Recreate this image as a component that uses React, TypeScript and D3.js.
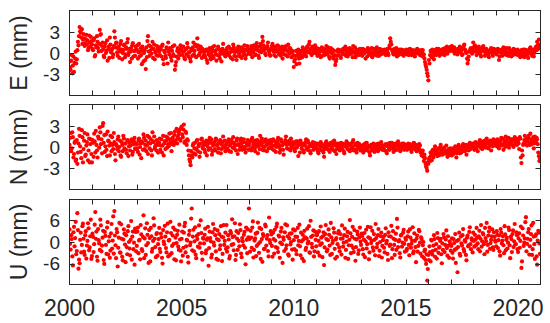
import React from "react";
import * as d3 from "d3";

// two interleaved sampling sets: 20 epochs per year each, one row per year (2000 ... 2020)
// "...Mm" rows sit at year + i/20, "...MmMid" rows at year + (i + 0.5)/20
const years = [2000, 2001, 2002, 2003, 2004, 2005, 2006, 2007, 2008, 2009, 2010,
  2011, 2012, 2013, 2014, 2015, 2016, 2017, 2018, 2019, 2020];

const eastMm = [
  [-1.2, -2.4, -0.3, -1.8, -2.7, -0.8, -1.5, 0.4, 1.1, 3.7, 2.9, 3.4, 1.9, 2.1, 1.4, 2.6, 1.8, 0.7, 1.5, 2.3],
  [1.2, 0.4, 2.1, -0.3, 0.8, 1.6, 0.2, 3.3, 2.7, 1.0, 0.5, -0.6, 1.4, 0.3, -1.1, 0.9, 2.2, 0.1, 0.6, -0.2],
  [3.1, 0.8, 1.5, -0.4, 0.9, 0.2, 1.7, -0.9, 0.4, 1.2, -0.2, 0.6, 2.0, 0.1, -1.3, 0.7, 1.1, -0.5, 0.3, 0.9],
  [0.5, -0.8, 1.3, 0.2, -0.3, 0.9, -1.2, 0.4, -2.3, -0.6, 2.4, 1.1, 0.3, -0.1, 1.6, 0.6, -0.9, 0.2, 1.0, -0.4],
  [0.2, 0.8, -0.5, 1.2, -1.6, 0.1, -0.7, 0.6, 1.5, -0.2, 0.4, -1.1, 0.9, -0.4, -2.4, -1.3, 0.3, -0.8, 0.5, 1.1],
  [0.7, -0.3, 0.2, -0.9, 0.6, 1.4, -0.5, 0.1, -1.2, 0.4, 0.8, -0.2, 1.2, -0.6, 2.1, 0.5, -0.1, 0.9, -0.7, 0.3],
  [0.1, -0.6, 0.5, -1.4, -0.2, 0.7, -0.9, 0.3, -0.4, 1.0, 0.2, -1.1, -0.3, 0.6, -0.8, 0.4, -0.1, 1.3, 0.0, -0.5],
  [0.4, -0.2, 0.9, 0.1, -0.7, 0.5, 1.2, -0.4, 0.3, -1.0, 0.6, 0.0, -0.5, 0.8, 0.2, -0.3, 1.1, -0.8, 0.4, 0.7],
  [-0.1, 0.5, 1.0, -0.6, 0.3, 0.8, -0.2, 1.4, 0.4, -0.7, 0.9, 0.1, 2.3, 1.1, 0.6, -0.3, 0.7, 1.5, 0.2, -0.4],
  [0.6, 1.3, 0.2, 0.9, -0.5, 0.4, 1.0, -0.2, 0.7, 0.1, -0.8, 0.5, 0.9, -0.3, 0.3, 1.2, -0.1, 0.6, -0.6, 0.2],
  [-2.0, -0.9, 0.3, -0.4, 0.5, -1.5, -0.7, 0.2, 0.8, -0.2, 0.4, -0.5, 0.9, 0.1, 1.6, 0.6, -0.3, 0.7, 0.0, 1.1],
  [0.3, -0.4, 0.6, 0.1, -0.6, 0.8, 0.2, -0.3, 0.5, 1.0, -0.1, 0.4, -0.8, 0.7, 0.0, -0.5, 0.3, -1.7, -0.9, 0.2],
  [-0.3, 0.4, -0.7, 0.1, 0.6, -0.2, 0.9, 0.3, -0.5, 0.2, 0.7, -0.1, 0.4, 1.0, 0.0, -0.6, 0.5, 0.1, -0.3, 0.6],
  [0.2, -0.4, 0.5, 0.0, -0.8, 0.3, 0.7, -0.2, 0.4, 0.1, -0.6, 0.6, 0.2, -0.3, 0.8, 0.0, -0.4, 0.3, 0.5, -0.1],
  [0.1, 0.5, -0.3, 0.4, 0.0, 0.7, 2.1, 1.2, 0.3, -0.2, 0.6, 0.1, -0.5, 0.4, 0.2, -0.1, 0.5, 0.0, -0.4, 0.3],
  [0.2, -0.2, 0.4, 0.0, 0.5, -0.3, 0.3, 0.1, -0.5, 0.2, 0.6, -0.1, 0.3, 0.0, -0.4, 0.4, -0.2, -1.3, -2.0, -2.9],
  [-3.9, -1.5, 0.3, -0.6, 0.1, -0.9, 0.4, -0.3, 0.2, 0.6, -0.4, 0.0, 0.5, -0.2, 0.3, 0.7, 0.1, -0.1, 0.4, 0.8],
  [0.6, 1.0, 0.3, 0.8, 0.1, 0.5, -0.2, 0.4, 0.9, 0.2, -0.3, 0.6, 1.2, 0.4, 0.0, -1.5, -0.5, 0.3, 0.7, -0.1],
  [1.5, 0.2, 0.8, -0.3, 0.4, 0.9, 0.1, -0.5, 0.6, 1.0, 0.2, -0.2, 0.5, 0.0, -0.6, 0.3, 0.7, -0.1, 0.4, 0.1],
  [0.3, -0.2, 0.6, -1.0, 0.1, 0.4, -0.4, 0.8, 0.2, 0.5, -0.3, 0.0, 0.7, 0.3, -0.5, 0.2, 0.6, -0.1, 0.4, 0.0],
  [-0.3, 0.2, -0.6, 0.4, 0.0, -0.4, 0.5, -0.2, 0.1, -0.7, 0.3, 0.8, -0.1, 0.2, -0.5, 0.4, 0.9, 1.6, 0.6, 1.2],
];

const eastMmMid = [
  [-2.0, -1.1, -2.9, -0.5, -1.4, 0.2, -0.9, 1.6, 2.4, 3.1, 2.2, 1.3, 2.7, 1.0, 2.0, 1.2, 0.4, 2.5, 0.9, 1.7],
  [0.6, 1.8, -0.5, 1.1, 2.4, 0.7, 1.3, 2.6, 0.3, 1.5, -0.4, 0.9, 0.0, 1.8, 0.5, -0.7, 1.2, 0.4, -0.6, 1.0],
  [2.2, 1.4, 0.1, 0.6, -0.7, 1.3, 0.5, 0.0, 1.1, -0.6, 0.8, 1.5, -0.3, 0.6, 0.2, -0.8, 1.4, 0.3, -0.4, 0.5],
  [1.1, 0.1, -0.5, 0.7, -1.6, 0.4, 0.0, -1.0, 0.8, 1.7, 0.2, -0.4, 0.9, 0.6, -0.7, 1.2, 0.1, -0.3, 0.5, 0.8],
  [-0.3, 0.5, 1.0, -0.9, 0.3, -0.4, 0.8, -1.5, 0.2, 0.7, -0.6, 0.3, -0.2, 1.1, -1.8, -0.5, 0.7, 0.0, -0.3, 0.4],
  [0.2, 0.9, -0.7, 0.5, -0.2, 0.8, 0.1, -0.8, 0.6, -0.4, 1.5, 0.3, -0.5, 0.9, 1.1, -0.3, 0.4, 0.2, 0.6, -0.4],
  [-0.3, 0.4, -1.0, 0.2, 0.6, -0.5, 0.0, 0.8, -0.7, 0.3, -0.2, 0.5, 0.9, -0.4, 0.1, -1.2, 0.6, 0.3, -0.3, 0.2],
  [0.7, 0.0, -0.4, 0.6, 0.2, -0.9, 0.8, 0.1, -0.5, 0.4, 0.9, -0.2, 0.3, -0.7, 0.6, 0.1, 0.5, -0.3, 1.0, 0.2],
  [0.3, -0.2, 0.6, 0.1, 1.1, -0.3, 0.5, 0.9, -0.4, 0.2, 1.3, 0.6, 1.7, 0.4, -0.1, 0.8, 1.0, 0.3, -0.2, 0.6],
  [1.0, 0.4, -0.3, 0.6, 0.2, 1.1, 0.0, 0.5, -0.4, 0.9, 0.3, -0.2, 0.6, 1.0, -0.5, 0.4, 0.7, 0.1, 0.3, -0.3],
  [-1.2, -0.4, -1.6, 0.1, -0.8, -0.2, 0.3, -0.6, 0.5, 0.1, -0.3, 0.7, 0.2, 1.2, 0.4, -0.1, 0.9, 0.3, 0.6, 0.0],
  [0.7, 0.0, -0.2, 0.5, 0.3, -0.4, 0.6, 0.1, -0.2, 0.4, 0.8, -0.5, 0.2, 0.0, 0.5, -0.8, -0.3, -1.2, -0.4, 0.5],
  [0.2, -0.5, 0.3, -0.1, 0.4, 0.7, -0.4, 0.1, 0.6, -0.2, 0.3, 0.5, -0.6, 0.2, 0.8, -0.3, 0.1, 0.4, -0.1, 0.3],
  [-0.2, 0.6, -0.1, 0.4, 0.2, -0.5, 0.1, 0.5, -0.3, 0.7, 0.0, -0.2, 0.5, 0.1, -0.4, 0.3, 0.6, -0.2, 0.1, 0.4],
  [0.4, -0.1, 0.2, 0.6, -0.3, 1.1, 1.6, 0.5, 0.0, 0.4, -0.2, 0.7, 0.1, -0.3, 0.5, 0.2, -0.2, 0.4, 0.1, -0.1],
  [0.5, 0.1, -0.3, 0.6, 0.2, -0.1, 0.4, -0.4, 0.3, 0.0, 0.5, 0.2, -0.3, 0.4, 0.0, -0.5, -0.8, -1.7, -2.4, -3.3],
  [-1.0, -0.3, 0.2, 0.5, -0.4, 0.1, -0.2, 0.6, 0.0, 0.3, 0.4, -0.1, 0.2, 0.6, -0.3, 0.5, 0.9, 0.2, 0.6, 0.3],
  [0.9, 0.4, 0.7, -0.1, 0.5, 0.2, 0.6, 0.1, 0.3, 0.7, -0.2, 0.9, 0.5, 0.1, -0.8, -1.0, 0.2, 0.6, 0.1, 0.4],
  [0.8, 1.1, 0.3, 0.5, 0.0, 0.6, -0.2, 0.3, 0.8, 0.4, -0.4, 0.6, 0.2, -0.3, 0.1, 0.5, 0.3, -0.4, 0.6, 0.2],
  [0.0, 0.5, 0.2, -0.5, 0.4, -0.1, 0.6, 0.3, -0.2, 0.7, 0.1, -0.4, 0.5, 0.0, 0.3, -0.3, 0.4, 0.2, -0.2, 0.5],
  [0.1, -0.4, 0.3, -0.1, 0.5, -0.6, 0.2, 0.4, -0.3, 0.0, 0.6, 0.2, -0.4, 0.5, 0.0, 0.7, 0.4, 1.1, 1.9, 0.8],
];

const northMm = [
  [0.3, 2.0, -0.2, 1.4, -1.0, 0.8, -1.8, -2.4, 0.5, 1.6, -0.7, 2.4, -2.2, 0.9, -1.3, 0.2, 1.8, -0.5, -2.2, 1.1],
  [-2.2, 0.6, 1.9, -0.8, 0.3, -1.5, 1.2, 2.8, 0.4, -0.9, 3.4, 1.7, 0.1, -0.4, 2.2, 0.8, -1.2, 0.5, 1.4, -0.3],
  [0.7, -1.9, 0.2, 1.1, -0.6, 0.9, -1.4, 0.3, 1.6, -0.2, 0.5, -0.9, 1.0, 0.1, -0.5, 0.8, -1.1, 0.4, 1.3, -0.3],
  [0.4, -0.7, 1.2, 0.0, -1.6, 0.6, 1.8, -0.3, 0.9, 0.2, -1.0, 1.4, 0.5, -0.5, 2.1, 0.8, -0.2, 0.3, 1.0, -0.8],
  [0.6, -0.4, 1.1, 0.2, -1.2, 0.8, 1.5, -0.1, 0.4, 1.9, 0.7, -0.6, 1.3, 0.3, 2.2, 1.0, 0.5, 1.7, 2.4, 0.9],
  [2.9, 1.4, 3.2, 0.8, 2.0, 1.1, -0.5, -1.8, -2.6, -1.2, 0.2, -0.9, 0.6, -0.3, 1.0, 0.1, -1.4, 0.5, 1.2, -0.2],
  [0.3, -0.8, 0.9, 0.1, -0.4, 1.3, 0.6, -1.1, 0.2, 0.7, -0.5, 1.0, 0.4, -0.2, 0.8, -0.9, 0.3, 1.5, 0.0, -0.6],
  [0.5, -0.3, 1.1, 0.2, -0.7, 0.6, 1.4, -0.2, 0.3, 0.9, -1.0, 0.4, 0.1, 1.2, -0.4, 0.7, 0.0, -0.8, 0.5, 1.0],
  [0.2, 0.8, -0.5, 1.3, 0.4, -0.2, 0.9, 0.1, -0.9, 0.6, 1.6, 0.3, -0.4, 0.7, 0.0, 1.1, -0.6, 0.4, 0.9, -0.1],
  [0.6, -0.3, 1.0, 0.2, -0.7, 0.5, 1.3, 0.0, -0.4, 0.8, 0.3, -1.1, 0.6, 1.5, -0.2, 0.4, 0.9, -0.5, 0.1, 0.7],
  [0.3, -0.6, 0.8, 0.0, -1.3, 0.4, 0.9, -0.2, 0.5, -0.8, 0.2, 1.1, -0.4, 0.6, 0.1, -0.9, 0.3, 0.7, -0.3, 0.4],
  [-0.2, 0.5, -0.9, 0.2, 0.7, -0.5, 0.1, -1.4, 0.4, 0.8, -0.3, 0.3, -0.7, 0.6, 0.0, -0.4, 0.9, 0.2, -1.0, 0.5],
  [0.1, -0.5, 0.6, -0.2, 0.3, -0.9, 0.4, 0.8, -0.3, 0.2, -0.6, 0.5, 0.0, 1.0, -0.4, 0.3, -0.8, 0.6, 0.1, -0.2],
  [-0.4, 0.2, -0.8, 0.4, -0.1, 0.6, -0.5, 0.0, -1.2, 0.3, -0.3, 0.5, -0.7, 0.1, 0.4, -0.6, 0.2, -0.2, 0.7, -0.4],
  [0.0, -0.5, 0.4, -0.9, 0.2, -0.3, 0.6, -0.1, 0.3, -0.7, 0.1, 0.5, -0.4, 0.8, 0.0, -0.6, 0.3, -0.2, 0.5, -0.1],
  [0.2, -0.4, 0.5, -0.1, 0.3, -0.7, 0.1, 0.6, -0.3, 0.2, -0.5, 0.0, 0.4, -0.8, -1.2, -0.5, -2.0, -1.6, -2.8, -3.4],
  [-2.4, -1.5, -0.8, -1.9, -0.4, -1.1, 0.1, -0.6, -1.3, -0.2, -0.9, 0.3, -0.5, -1.0, -0.1, -0.7, 0.2, -1.4, -0.3, -0.8],
  [-0.5, -1.2, -0.2, -0.8, 0.1, -1.5, -0.4, 0.3, -0.9, -0.1, -0.6, 0.4, -0.3, 0.0, -1.1, 0.2, -0.5, 0.6, -0.2, 0.1],
  [0.3, -0.4, 0.7, 0.0, -0.6, 0.5, 1.0, 0.2, -0.3, 0.8, 0.4, -0.1, 1.2, 0.6, 0.0, 0.9, -0.5, 0.5, 1.1, 0.3],
  [0.7, 0.1, 1.0, -0.2, 0.5, 1.3, 0.3, -0.4, 0.8, 1.5, 0.2, 0.6, -0.1, 1.1, 0.4, 0.9, 0.0, 1.4, 0.7, 0.3],
  [0.9, -0.3, 1.2, -2.3, -1.2, 0.5, 1.6, 0.8, 0.2, 1.3, 0.6, 1.9, 0.4, 1.0, -0.2, 1.5, 0.7, 1.1, -0.8, -2.0],
];

const northMmMid = [
  [1.3, -0.6, 2.1, -1.5, 0.6, -2.0, 1.0, -0.8, 2.6, 0.1, -1.6, 1.4, -0.3, 2.0, -1.1, 0.7, -1.9, 1.2, 0.4, -1.0],
  [1.0, -1.4, 0.8, 2.3, -0.5, 1.5, -0.1, 2.1, 1.1, 3.0, 0.6, -0.7, 1.8, -1.3, 0.9, 0.2, 1.6, -0.6, 0.3, 2.0],
  [-1.0, 0.4, -0.3, 1.5, 0.0, -1.2, 0.7, -0.6, 1.2, 0.5, -0.4, 0.9, -1.3, 0.6, 0.2, 1.1, -0.7, 0.8, -0.2, 0.5],
  [-0.2, 0.9, -1.1, 0.5, 0.8, -0.4, 1.3, 0.3, -0.6, 1.6, 0.6, -0.2, 1.1, -1.2, 0.7, 1.5, 0.1, -0.5, 0.6, 0.3],
  [1.2, 0.2, -0.8, 1.6, 0.5, -0.3, 0.9, 1.3, 0.1, 1.1, 2.0, 0.4, 0.8, 1.7, 0.6, 2.6, 1.4, 2.1, 1.1, 2.7],
  [1.8, 2.5, 0.6, 2.2, 0.3, 0.9, -1.2, -2.1, -0.6, -1.5, 0.5, -0.2, -1.1, 0.9, -0.6, 0.4, -0.8, 1.1, 0.0, 0.7],
  [-0.4, 0.6, -1.2, 0.5, 0.9, -0.2, 1.1, -0.6, 0.4, -0.3, 1.2, 0.2, -0.8, 0.5, 1.0, -0.3, 0.7, -0.1, 0.9, 0.3],
  [-0.2, 0.8, -0.6, 0.5, 1.0, -0.1, 0.6, 0.2, -0.5, 1.2, 0.3, -0.4, 0.9, 0.5, 0.0, 1.1, -0.3, 0.6, 0.2, -0.4],
  [0.6, -0.3, 1.1, 0.0, 0.7, -0.6, 0.4, 1.0, 0.2, -0.3, 0.8, 1.2, 0.1, -0.5, 0.9, 0.3, 0.6, -0.2, 0.5, 1.0],
  [0.2, 1.1, -0.5, 0.7, 0.0, 0.9, 0.4, -0.8, 1.1, 0.2, -0.4, 0.6, 1.0, 0.3, 0.7, -0.3, 0.5, 1.2, -0.1, 0.4],
  [-0.3, 0.5, -0.1, 0.8, 0.3, -0.8, 0.5, 0.2, -0.5, 0.3, 0.7, -0.2, 0.9, 0.0, -0.6, 0.4, 0.1, -0.4, 0.6, 0.0],
  [0.4, -0.6, 0.3, -0.2, 0.5, 0.1, -0.8, -0.3, 0.6, 0.0, 0.4, -0.5, 0.2, -0.2, 0.7, 0.3, -0.6, 0.5, -0.3, 0.1],
  [-0.3, 0.4, -0.1, 0.5, -0.6, 0.2, 0.0, 0.6, 0.3, -0.4, 0.4, -0.2, 0.7, -0.5, 0.2, 0.5, -0.3, 0.1, 0.4, -0.5],
  [0.1, -0.3, 0.3, -0.5, 0.6, -0.2, 0.2, -0.8, 0.0, -0.5, 0.3, -0.1, 0.2, -0.4, 0.0, 0.5, -0.3, 0.4, -0.1, 0.2],
  [-0.3, 0.3, -0.6, 0.1, 0.5, -0.4, 0.2, 0.6, -0.2, 0.4, -0.4, 0.2, 0.6, -0.1, 0.3, -0.3, 0.5, 0.0, -0.4, 0.3],
  [-0.2, 0.3, 0.0, 0.4, -0.4, 0.2, -0.2, 0.5, 0.0, -0.6, 0.3, -0.2, 0.2, -0.5, -0.9, -1.4, -1.1, -2.4, -3.0, -2.2],
  [-1.8, -2.0, -1.2, -0.6, -1.5, -0.3, -0.8, -1.0, -0.4, -1.2, -0.1, -0.7, -1.1, -0.3, -0.9, -0.5, -1.0, -0.6, -1.2, -0.2],
  [-0.9, -0.4, -1.0, -0.3, -0.7, -0.9, 0.0, -0.5, -0.2, -0.8, 0.2, -0.3, -0.6, 0.3, -0.4, -0.1, 0.4, -0.3, 0.2, 0.5],
  [0.0, 0.5, -0.2, 0.4, 0.2, 0.8, -0.1, 0.6, 0.3, 0.1, 0.9, 0.4, 0.7, -0.2, 0.5, 0.3, 0.8, 0.1, 0.6, 0.9],
  [0.4, 1.1, 0.6, 0.3, 0.9, 0.2, 1.2, 0.5, 0.0, 1.0, 0.7, 1.3, 0.4, 0.8, 1.1, 0.2, 0.9, 0.5, 1.2, 1.0],
  [0.5, 1.4, -1.5, -0.5, 0.3, 1.0, 0.4, 1.2, 0.8, 1.6, 0.3, 1.1, 0.7, 1.4, 0.5, 1.0, 1.3, 0.4, -1.3, -1.6],
];

const upMm = [
  [3.5, -2.1, 0.8, -6.5, 4.2, 1.1, -3.4, 8.0, -7.4, -5.9, 2.6, -0.8, 5.1, -2.7, 1.9, -4.6, 0.3, 3.8, -1.5, 6.2],
  [-3.9, 1.4, -0.6, 8.3, 2.9, -5.2, 0.5, -2.2, 4.6, -1.0, 3.1, -6.1, 1.7, -3.3, 5.5, 0.2, -4.4, 2.4, -1.8, 7.1],
  [8.6, -0.9, 3.6, -6.8, 1.2, -2.9, 4.9, -4.1, 0.7, 2.3, -5.6, -1.4, 3.0, 0.0, -3.7, 5.8, 1.5, -2.0, -6.3, 2.8],
  [-1.1, 4.0, 0.4, -4.8, 2.1, -2.5, 7.4, 1.0, -3.6, 5.2, -0.3, 3.3, -5.4, 1.6, -1.9, 6.6, 0.9, -4.2, 2.5, -0.6],
  [3.9, -2.8, 1.3, -6.0, 0.1, 4.5, -1.7, 2.7, -4.0, 0.6, 5.6, -3.1, 1.8, -0.5, 3.4, -5.1, 2.0, -1.3, 4.8, -2.4],
  [0.9, -3.8, 2.6, 5.3, -1.2, 0.4, -5.7, 3.1, -0.2, 9.3, 1.5, -2.6, 4.1, -4.5, 0.8, 2.2, -1.6, 6.0, -3.0, 1.1],
  [-0.4, 3.7, -2.3, 1.0, -6.6, 2.9, 0.2, -3.5, 5.0, -1.0, 1.9, -4.7, 3.2, 0.5, -2.0, 4.4, -5.3, 1.3, -0.8, 2.6],
  [4.7, -1.5, 0.7, -3.9, 2.4, 6.3, -0.6, 1.6, -5.0, 3.0, -2.2, 0.3, 4.9, -3.2, 1.1, -0.9, 2.8, -6.2, 0.6, 3.5],
  [9.3, -2.7, 1.2, 4.0, -4.3, 0.4, 2.3, -1.1, 5.4, -3.0, 0.0, 3.6, -5.5, 1.7, -1.8, 4.3, 0.9, -2.5, 6.8, -0.3],
  [2.1, -4.1, 0.8, 3.4, -1.4, 5.1, -2.8, 1.5, -0.2, 3.9, -5.8, 0.6, 2.7, -1.9, 4.6, -3.4, 1.0, -0.7, 2.4, -4.9],
  [0.5, 3.2, -2.4, 1.4, -0.9, 4.8, -3.7, 0.2, 2.0, -5.3, 1.3, -1.6, 3.7, 0.1, -2.9, 5.9, -0.5, 1.8, -4.0, 2.9],
  [-1.2, 2.4, 0.3, -3.8, 4.3, -0.4, 1.6, -6.4, 2.2, 0.8, -2.1, 3.5, -1.0, 5.3, -3.3, 0.4, 2.6, -4.6, 1.1, -0.6],
  [3.0, -2.6, 0.9, 4.6, -1.3, 1.9, -4.4, 0.1, 2.8, -0.9, 6.1, -3.1, 1.4, -1.7, 3.3, -5.2, 0.7, 2.1, -2.3, 4.0],
  [-0.8, 1.7, -3.5, 2.5, 0.2, -1.8, 4.2, -4.8, 1.0, -0.3, 3.1, -2.4, 0.6, 5.0, -1.5, 1.9, -3.9, 0.0, 2.6, -1.1],
  [1.4, -2.9, 3.8, 0.3, -5.0, 1.6, -0.7, 4.5, -2.0, 0.9, -3.6, 2.3, 6.4, -1.4, 0.5, -4.3, 2.0, -0.2, 3.4, -2.7],
  [0.6, -1.9, 2.9, -3.7, 1.2, -0.5, 4.1, -2.6, 0.3, -5.6, 1.8, -1.1, 3.0, -3.2, 0.8, -0.9, -4.4, -2.1, -6.1, -10.7],
  [-3.6, -1.2, -5.4, 0.4, -2.5, 1.9, -4.1, -0.6, 2.5, -3.0, -1.4, 0.9, -5.9, -2.2, 1.3, -0.8, 3.2, -3.8, -1.0, 0.2],
  [-2.4, 1.0, -4.6, -0.3, 2.2, -1.8, -8.4, 0.6, -3.3, 1.5, -1.0, 3.6, -2.7, 0.1, -5.1, 1.8, -0.9, 4.1, -2.0, 0.5],
  [2.6, -1.3, 0.7, 3.9, -0.4, 1.6, -2.6, 4.7, 0.2, 2.1, -3.4, 1.1, 5.3, -0.8, 2.9, -1.9, 0.6, 3.5, -2.2, 1.4],
  [0.1, 3.0, -1.7, 1.8, -3.8, 2.6, 0.4, -0.9, 4.4, -2.3, 1.2, -0.2, 3.3, -4.5, 0.8, 2.2, -1.4, 5.0, -0.6, 1.9],
  [-2.8, 2.4, 0.3, -7.2, 3.8, -1.1, 1.0, 6.9, -0.5, 2.7, -3.5, 0.6, 4.6, -2.0, 1.5, -4.7, 2.1, -6.3, 3.1, -0.4],
];

const upMmMid = [
  [-0.5, 1.9, -4.0, 2.7, -1.2, 5.6, -2.5, 3.3, -4.9, 0.6, -2.9, 4.4, 0.9, -3.6, 3.0, -1.0, 5.2, -2.3, 1.6, -4.7],
  [2.3, -2.8, 4.8, 0.9, -4.1, 3.6, -0.4, 6.2, -2.6, 1.2, -5.0, 2.8, -0.8, 4.0, -3.5, 1.5, -2.4, 5.0, 0.4, -3.2],
  [1.8, -4.5, 2.7, -1.6, 5.3, -3.0, 0.9, -5.1, 3.5, -0.7, 1.9, -3.4, 4.4, -1.8, 0.6, -4.9, 2.9, -0.2, 3.7, -2.6],
  [2.9, -3.1, 0.6, 4.7, -2.0, 1.4, -4.5, 3.8, -0.9, 2.0, -5.8, 1.1, 3.9, -2.7, 0.3, 4.6, -1.4, 2.2, -3.8, 0.8],
  [-1.9, 2.3, -4.4, 3.3, -0.6, 1.5, -2.9, 5.1, 0.4, -3.6, 2.5, -1.1, 4.0, -4.8, 1.2, -0.3, 3.1, -2.2, 0.7, -5.4],
  [2.9, -1.6, 4.4, -2.9, 0.6, -4.1, 2.0, -0.9, 6.5, -2.3, 3.4, 0.2, -3.5, 1.7, -1.3, 4.6, -0.4, 2.5, -4.9, 0.9],
  [2.0, -3.1, 0.6, 4.2, -1.7, 1.1, -4.3, 2.7, -0.2, 3.6, -2.6, 0.8, -5.0, 2.2, -0.9, 1.5, -3.3, 4.7, 0.3, -1.9],
  [-2.7, 1.9, -4.6, 3.0, -0.8, 1.4, -2.3, 5.2, -3.6, 0.9, 2.5, -1.2, 3.3, -4.2, 0.2, 2.0, -1.6, 4.0, -3.1, 1.3],
  [0.8, 3.1, -1.6, 5.7, -2.2, 1.0, -3.9, 2.6, -0.5, 3.9, -4.7, 0.8, 2.2, -2.0, 4.8, -1.0, 1.9, -4.0, 0.5, 3.0],
  [-1.1, 2.6, -3.2, 0.4, 4.2, -1.7, 1.8, -4.4, 2.9, -0.6, 1.3, -2.5, 4.9, -0.9, 1.6, -3.8, 2.3, 0.0, -2.1, 3.5],
  [-2.0, 1.5, -3.4, 3.9, 0.3, -1.2, 2.6, -4.6, 0.7, 3.1, -2.2, 1.0, -0.4, 4.4, -3.0, 1.4, -1.5, 3.2, -2.6, 0.6],
  [1.9, -2.9, 3.0, -0.8, 1.2, -4.2, 2.7, -1.5, 4.7, -2.6, 0.5, 2.0, -3.6, 1.3, -0.3, 3.8, -1.9, 0.7, -4.1, 2.4],
  [-1.5, 2.2, -3.5, 1.0, -0.2, 3.7, -2.2, 1.6, -4.7, 0.6, 2.4, -1.0, 4.2, -2.8, 0.9, -1.4, 2.9, -3.3, 1.3, 0.1],
  [2.3, -2.0, 0.7, -4.2, 3.4, -0.6, 1.3, -2.9, 4.1, 0.3, -1.5, 2.2, -3.7, 1.1, -0.5, 3.6, -2.4, 1.6, -4.3, 0.5],
  [-1.6, 2.0, -0.4, -3.3, 2.7, -1.1, 1.5, -4.5, 3.0, -0.8, 0.6, -2.2, 4.0, 0.2, -3.1, 1.8, -1.3, 2.6, -0.5, 1.1],
  [-2.4, 1.6, -0.8, 3.5, -1.6, 0.4, -3.1, 2.4, -1.4, 0.9, -2.7, 3.4, -0.2, 1.3, -4.0, 0.0, -2.6, -5.0, -3.4, -7.5],
  [-5.0, -2.8, 0.6, -3.5, -1.0, 0.8, -2.2, -4.6, 1.1, -1.6, 0.3, -3.4, -0.4, 2.2, -2.8, 0.7, -1.7, 1.6, -4.4, -0.6],
  [-1.1, -3.0, 0.8, -2.2, -5.8, 0.3, -1.4, 2.6, -3.8, -0.4, 1.9, -2.0, 0.5, -3.6, 1.2, -1.2, 2.8, -0.6, 1.0, -2.9],
  [0.3, 2.0, -0.9, 1.2, -2.0, 3.1, 0.9, -1.3, 2.5, -0.6, 3.9, 0.2, -2.7, 1.8, 4.0, -0.3, 1.6, -1.5, 2.7, 0.4],
  [-1.2, 2.0, 0.5, -2.6, 3.6, -0.4, 1.6, -3.1, 2.1, 0.6, -1.8, 4.0, -0.9, 1.5, -2.8, 3.2, 0.2, -0.7, 2.7, -2.0],
  [1.0, -1.6, 4.3, -5.4, 1.8, -0.2, 5.5, -2.6, 0.9, 3.6, -1.2, 2.2, -3.6, 5.3, -0.6, 1.7, -4.0, 0.4, 2.6, -3.3],
];

const xLabelYears = [2000, 2005, 2010, 2015, 2020];
const enTicks = [-3, 0, 3];
const upTicks = [-6, 0, 6];

const INK = "#262626";
const FONT = "'Liberation Sans', Arial, Helvetica, sans-serif";

function flatten(rows: number[][], shift: number) {
  const out: { t: number; v: number }[] = [];
  rows.forEach((row, r) => {
    row.forEach((v, i) => out.push({ t: years[r] + (i + shift) / row.length, v }));
  });
  return out;
}

const panels = [
  { key: "e", label: "E (mm)", rows: eastMm, mid: eastMmMid, top: 10.5, bottom: 95.5, lim: 6.07, ticks: enTicks },
  { key: "n", label: "N (mm)", rows: northMm, mid: northMmMid, top: 104.5, bottom: 189.5, lim: 6.07, ticks: enTicks },
  { key: "u", label: "U (mm)", rows: upMm, mid: upMmMid, top: 199.5, bottom: 284.5, lim: 11.8, ticks: upTicks },
];

export default function App() {
  const width = 550, height = 323;
  const left = 69.5, right = 540.5;
  const tickLen = 5;

  const x = d3.scaleLinear().domain([2000, 2021]).range([left, right]);
  const yearTicks = d3.range(2001, 2021);

  return (
    <svg width={width} height={height} style={{ display: "block", position: "absolute", left: 0, top: 0 }}
      fontFamily={FONT}>
      <rect width={width} height={height} fill="white" />
      {panels.map((p) => {
        const y = d3.scaleLinear().domain([-p.lim, p.lim]).range([p.bottom, p.top]);
        const pts = flatten(p.rows, 0).concat(flatten(p.mid, 0.5)).sort((a, b) => a.t - b.t);
        const mid = (p.top + p.bottom) / 2;
        return (
          <g key={p.key}>
            <defs>
              <clipPath id={"clip-" + p.key}>
                <rect x={left} y={p.top} width={right - left} height={p.bottom - p.top} />
              </clipPath>
            </defs>
            <g clipPath={`url(#clip-${p.key})`}>
              {pts.map((d, i) => (
                <circle key={i} cx={x(d.t)} cy={y(d.v)} r={2.1} fill="#ff0000" />
              ))}
            </g>
            <g stroke={INK} strokeWidth={1} fill="none">
              <rect x={left} y={p.top} width={right - left} height={p.bottom - p.top} />
              {yearTicks.map((yr) => (
                <g key={yr}>
                  <line x1={Math.round(x(yr)) + 0.5} x2={Math.round(x(yr)) + 0.5} y1={p.bottom} y2={p.bottom - tickLen} />
                  <line x1={Math.round(x(yr)) + 0.5} x2={Math.round(x(yr)) + 0.5} y1={p.top} y2={p.top + tickLen} />
                </g>
              ))}
              {p.ticks.map((t) => (
                <g key={t}>
                  <line x1={left} x2={left + tickLen} y1={Math.round(y(t)) + 0.5} y2={Math.round(y(t)) + 0.5} />
                  <line x1={right} x2={right - tickLen} y1={Math.round(y(t)) + 0.5} y2={Math.round(y(t)) + 0.5} />
                </g>
              ))}
            </g>
            {p.ticks.map((t) => (
              <text key={t} x={60} y={y(t)} dy="0.36em" textAnchor="end" fontSize={19} fill={INK}>
                {t < 0 ? "-" + Math.abs(t) : t}
              </text>
            ))}
            <text transform={`translate(26.5,${mid}) rotate(-90)`} textAnchor="middle" fontSize={23} fill={INK}>
              {p.label}
            </text>
          </g>
        );
      })}
      {xLabelYears.map((yr) => (
        <text key={yr} x={x(yr)} y={315.5} textAnchor="middle" fontSize={23} fill={INK}>
          {yr}
        </text>
      ))}
    </svg>
  );
}
